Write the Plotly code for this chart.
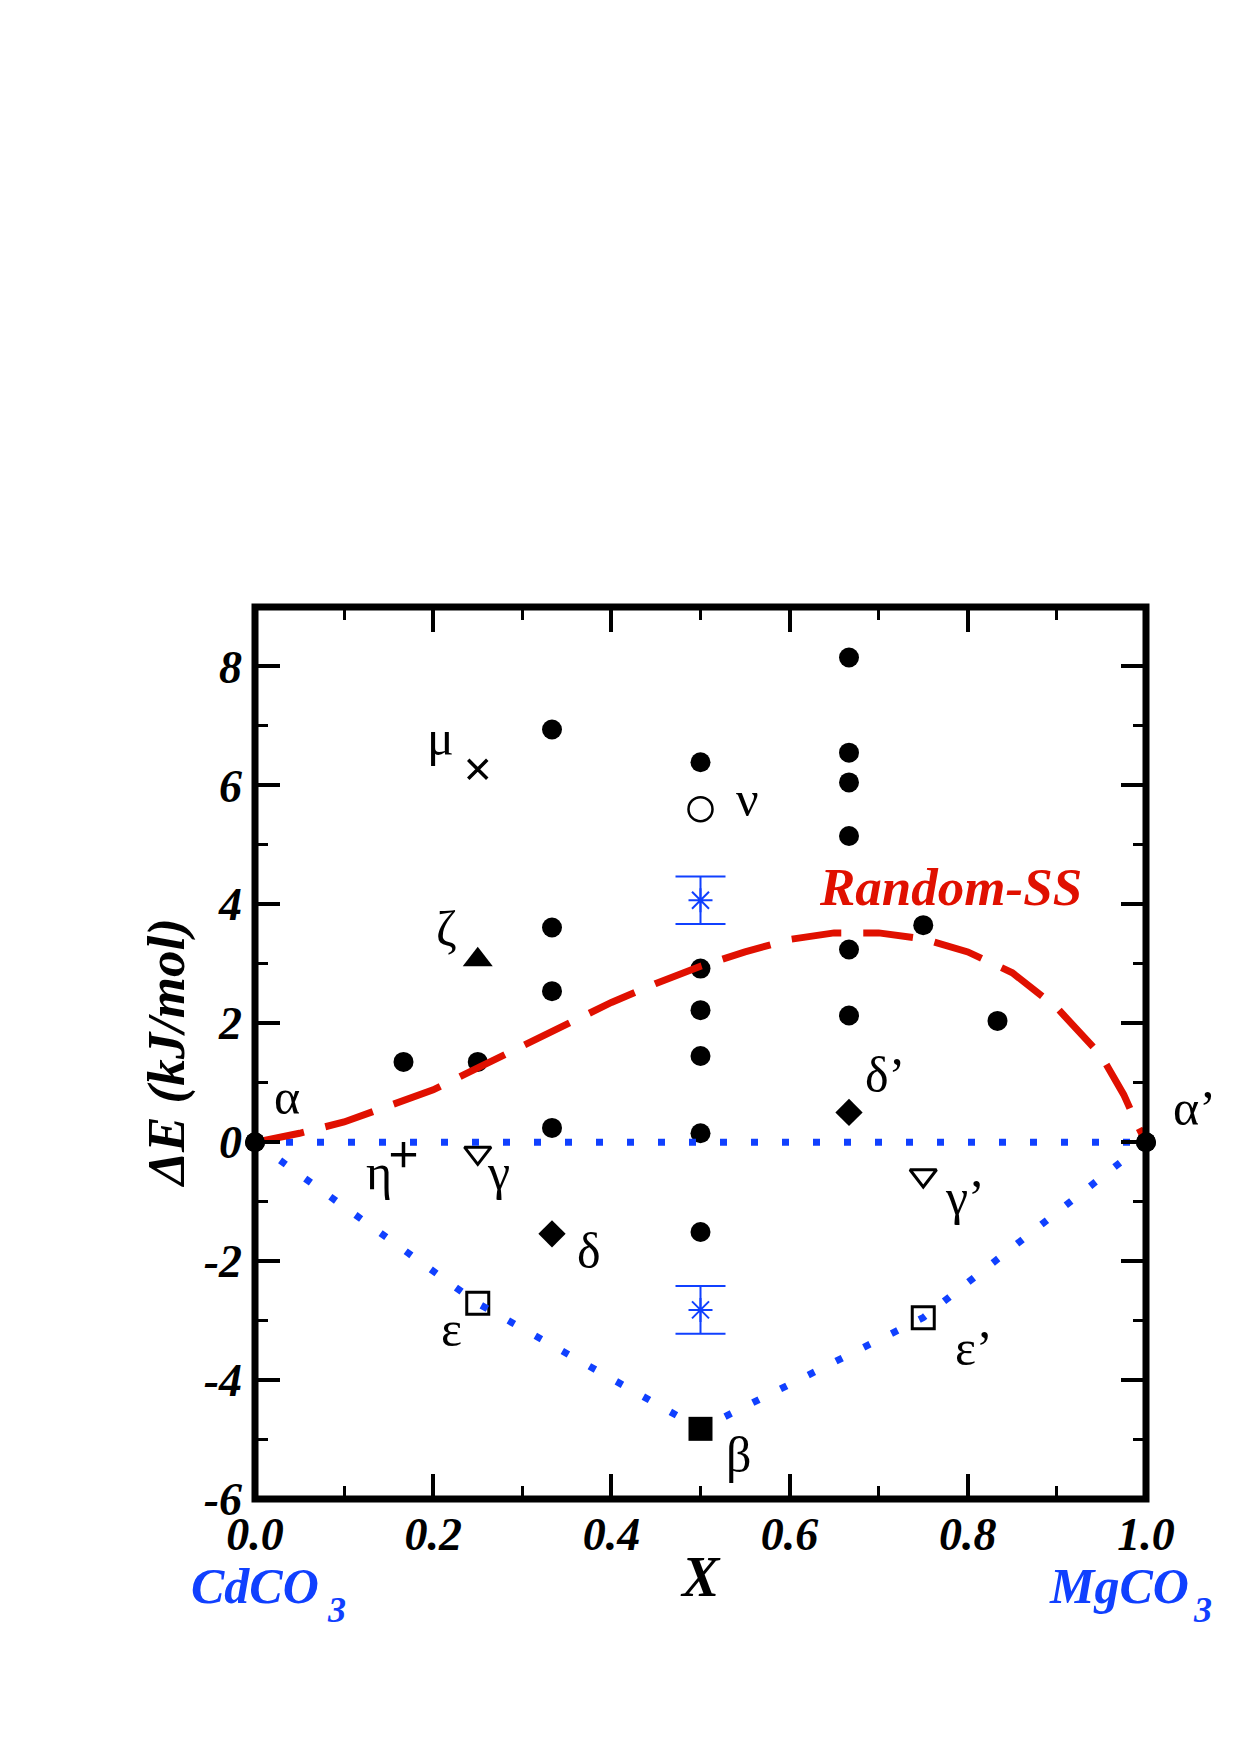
import plotly.graph_objects as go

# ---------------- data ----------------
# filled circles (computed structures)
circle_x = [0, 1/6, 0.25, 1/3, 1/3, 1/3, 1/3,
            0.5, 0.5, 0.5, 0.5, 0.5, 0.5,
            2/3, 2/3, 2/3, 2/3, 2/3, 2/3,
            0.75, 5/6, 1]
circle_y = [0, 1.35, 1.35, 6.94, 3.61, 2.54, 0.24,
            6.39, 2.92, 2.22, 1.45, 0.15, -1.51,
            8.15, 6.55, 6.05, 5.15, 3.24, 2.13,
            3.65, 2.04, 0]

# special structures
mu_x, mu_y = [0.25], [6.27]
nu_x, nu_y = [0.5], [5.60]
zeta_x, zeta_y = [0.25], [3.07]
eta_x, eta_y = [1/6], [-0.21]
gamma_x, gamma_y = [0.25, 0.75], [-0.18, -0.56]
delta_x, delta_y = [1/3, 2/3], [-1.54, 0.50]
eps_x, eps_y = [0.25, 0.75], [-2.71, -2.95]
beta_x, beta_y = [0.5], [-4.82]

# experimental (blue asterisks with error bars)
exp_x = [0.5, 0.5]
exp_y = [4.07, -2.82]
exp_err = [0.40, 0.40]

# convex hull (blue dotted)
hull_x = [0, 0.25, 0.5, 0.75, 1]
hull_y = [0, -2.71, -4.82, -2.95, 0]
zero_x = [0, 1]
zero_y = [0, 0]

# random solid solution curve (red dashed)
rss_x = [0, 0.05, 0.1, 0.15, 0.2, 0.25, 0.3, 0.35, 0.4, 0.45, 0.5, 0.55,
         0.6, 0.65, 0.7, 0.75, 0.8, 0.85, 0.9, 0.95, 0.975, 0.99, 1.0]
rss_y = [0, 0.15, 0.34, 0.60, 0.88, 1.25, 1.62, 1.99, 2.35, 2.67, 2.96, 3.20,
         3.41, 3.52, 3.52, 3.42, 3.20, 2.85, 2.26, 1.45, 0.80, 0.30, 0]

# axis ticks
x_major = [0, 0.2, 0.4, 0.6, 0.8, 1.0]
x_major_text = ["0.0", "0.2", "0.4", "0.6", "0.8", "1.0"]
x_minor = [0.1, 0.3, 0.5, 0.7, 0.9]
y_major = [-6, -4, -2, 0, 2, 4, 6, 8]
y_major_text = ["-6", "-4", "-2", "0", "2", "4", "6", "8"]
y_minor = [-5, -3, -1, 1, 3, 5, 7]

# point labels: (text, x, y, xshift px, yshift px)
labels = [
    ("α", 0, 0, 32, 45),
    ("α’", 1, 0, 48, 34),
    ("μ", 0.25, 6.27, -37, 31),
    ("ν", 0.5, 5.60, 47, 10),
    ("ζ", 0.25, 3.07, -31, 31),
    ("η", 1/6, -0.21, -25, -17),
    ("γ", 0.25, -0.18, 21, -19),
    ("δ", 1/3, -1.54, 37, -17),
    ("ε", 0.25, -2.71, -26, -26),
    ("β", 0.5, -4.82, 38, -26),
    ("δ’", 2/3, 0.50, 36, 37),
    ("γ’", 0.75, -0.56, 42, -21),
    ("ε’", 0.75, -2.95, 51, -30),
]

BLUE = "#1040ff"
RED = "#e01000"
SERIF = "Liberation Serif"

fig = go.Figure()

def mk(x, y, symbol, size, color="black", lw=0, lc="black"):
    fig.add_trace(go.Scatter(
        x=x, y=y, mode="markers", cliponaxis=False, showlegend=False,
        marker=dict(symbol=symbol, size=size, color=color,
                    line=dict(width=lw, color=lc))))

mk(circle_x, circle_y, "circle", 20)
mk(mu_x, mu_y, "x-thin-open", 19, lw=3.5)
mk(nu_x, nu_y, "circle-open", 24, lw=2.5)
mk(zeta_x, zeta_y, "triangle-up", 26)
mk(eta_x, eta_y, "cross-thin-open", 18, lw=3.5)
mk(gamma_x, gamma_y, "triangle-down-open", 23, lw=3)
mk(delta_x, delta_y, "diamond", 21)
mk(eps_x, eps_y, "square-open", 22, lw=3)

fig.add_trace(go.Scatter(
    x=exp_x, y=exp_y, mode="markers", showlegend=False, cliponaxis=False,
    marker=dict(symbol="asterisk-open", size=20, color=BLUE,
                line=dict(width=2, color=BLUE)),
    error_y=dict(type="data", array=exp_err, visible=True, color=BLUE,
                 thickness=2, width=25)))

for xs, ys in [(zero_x, zero_y), (hull_x, hull_y)]:
    fig.add_trace(go.Scatter(
        x=xs, y=ys, mode="lines", showlegend=False, cliponaxis=False,
        line=dict(color=BLUE, width=7, dash="7px,24px")))

fig.add_trace(go.Scatter(
    x=rss_x, y=rss_y, mode="lines", showlegend=False, cliponaxis=False,
    line=dict(color=RED, width=7, dash="50px,22px")))

# ground state and end-member markers on top
mk(beta_x, beta_y, "square", 24)
mk([circle_x[0], circle_x[-1]], [circle_y[0], circle_y[-1]], "circle", 20)

tickfont = dict(family=SERIF, size=46, color="black", weight="bold", style="italic")

fig.update_xaxes(
    range=[0, 1], showgrid=False, zeroline=False, showline=False,
    tickmode="array", tickvals=x_major, ticktext=x_major_text,
    ticks="inside", ticklen=25, tickwidth=3.5, tickcolor="black",
    mirror="ticks", tickfont=tickfont, ticklabelstandoff=4,
    minor=dict(tickvals=x_minor, ticks="inside", ticklen=13, tickwidth=3,
               tickcolor="black"))
fig.update_yaxes(
    range=[-6, 9], showgrid=False, zeroline=False, showline=False,
    tickmode="array", tickvals=y_major, ticktext=y_major_text,
    ticks="inside", ticklen=25, tickwidth=3.5, tickcolor="black",
    mirror="ticks", tickfont=tickfont, ticklabelstandoff=12,
    minor=dict(tickvals=y_minor, ticks="inside", ticklen=13, tickwidth=3,
               tickcolor="black"))

annotations = []
for t, x, y, dx, dy in labels:
    annotations.append(dict(
        x=x, y=y, xref="x", yref="y", text=t, showarrow=False,
        xshift=dx, yshift=dy, xanchor="center", yanchor="middle",
        font=dict(family=SERIF, size=50, color="black")))

annotations += [
    dict(x=0.5, y=-0.087, xref="paper", yref="paper", text="X",
         showarrow=False, xanchor="center", yanchor="middle",
         font=dict(family=SERIF, size=56, color="black", weight="bold", style="italic")),
    dict(x=-0.0995, y=0.5, xref="paper", yref="paper", text="ΔE (kJ/mol)",
         textangle=-90, showarrow=False, xanchor="center", yanchor="middle",
         font=dict(family=SERIF, size=53, color="black", weight="bold", style="italic")),
    dict(x=0.781, y=0.686, xref="paper", yref="paper", text="Random-SS",
         showarrow=False, xanchor="center", yanchor="middle",
         font=dict(family=SERIF, size=53, color=RED, weight="bold", style="italic")),
    dict(x=0.0, y=-0.097, xref="paper", yref="paper", text="CdCO",
         showarrow=False, xanchor="center", yanchor="middle",
         font=dict(family=SERIF, size=50, color=BLUE, weight="bold", style="italic")),
    dict(x=0.091, y=-0.124, xref="paper", yref="paper", text="3",
         showarrow=False, xanchor="center", yanchor="middle",
         font=dict(family=SERIF, size=36, color=BLUE, weight="bold", style="italic")),
    dict(x=0.97, y=-0.097, xref="paper", yref="paper", text="MgCO",
         showarrow=False, xanchor="center", yanchor="middle",
         font=dict(family=SERIF, size=50, color=BLUE, weight="bold", style="italic")),
    dict(x=1.063, y=-0.124, xref="paper", yref="paper", text="3",
         showarrow=False, xanchor="center", yanchor="middle",
         font=dict(family=SERIF, size=36, color=BLUE, weight="bold", style="italic")),
]

fig.update_layout(
    width=1240, height=1755,
    margin=dict(l=255, r=94, t=607, b=256, autoexpand=False),
    paper_bgcolor="white", plot_bgcolor="white",
    showlegend=False,
    annotations=annotations,
    shapes=[dict(type="rect", xref="paper", yref="paper", x0=0, x1=1, y0=0, y1=1,
                 line=dict(color="black", width=7), layer="above")],
)

fig.write_html("out.html")
